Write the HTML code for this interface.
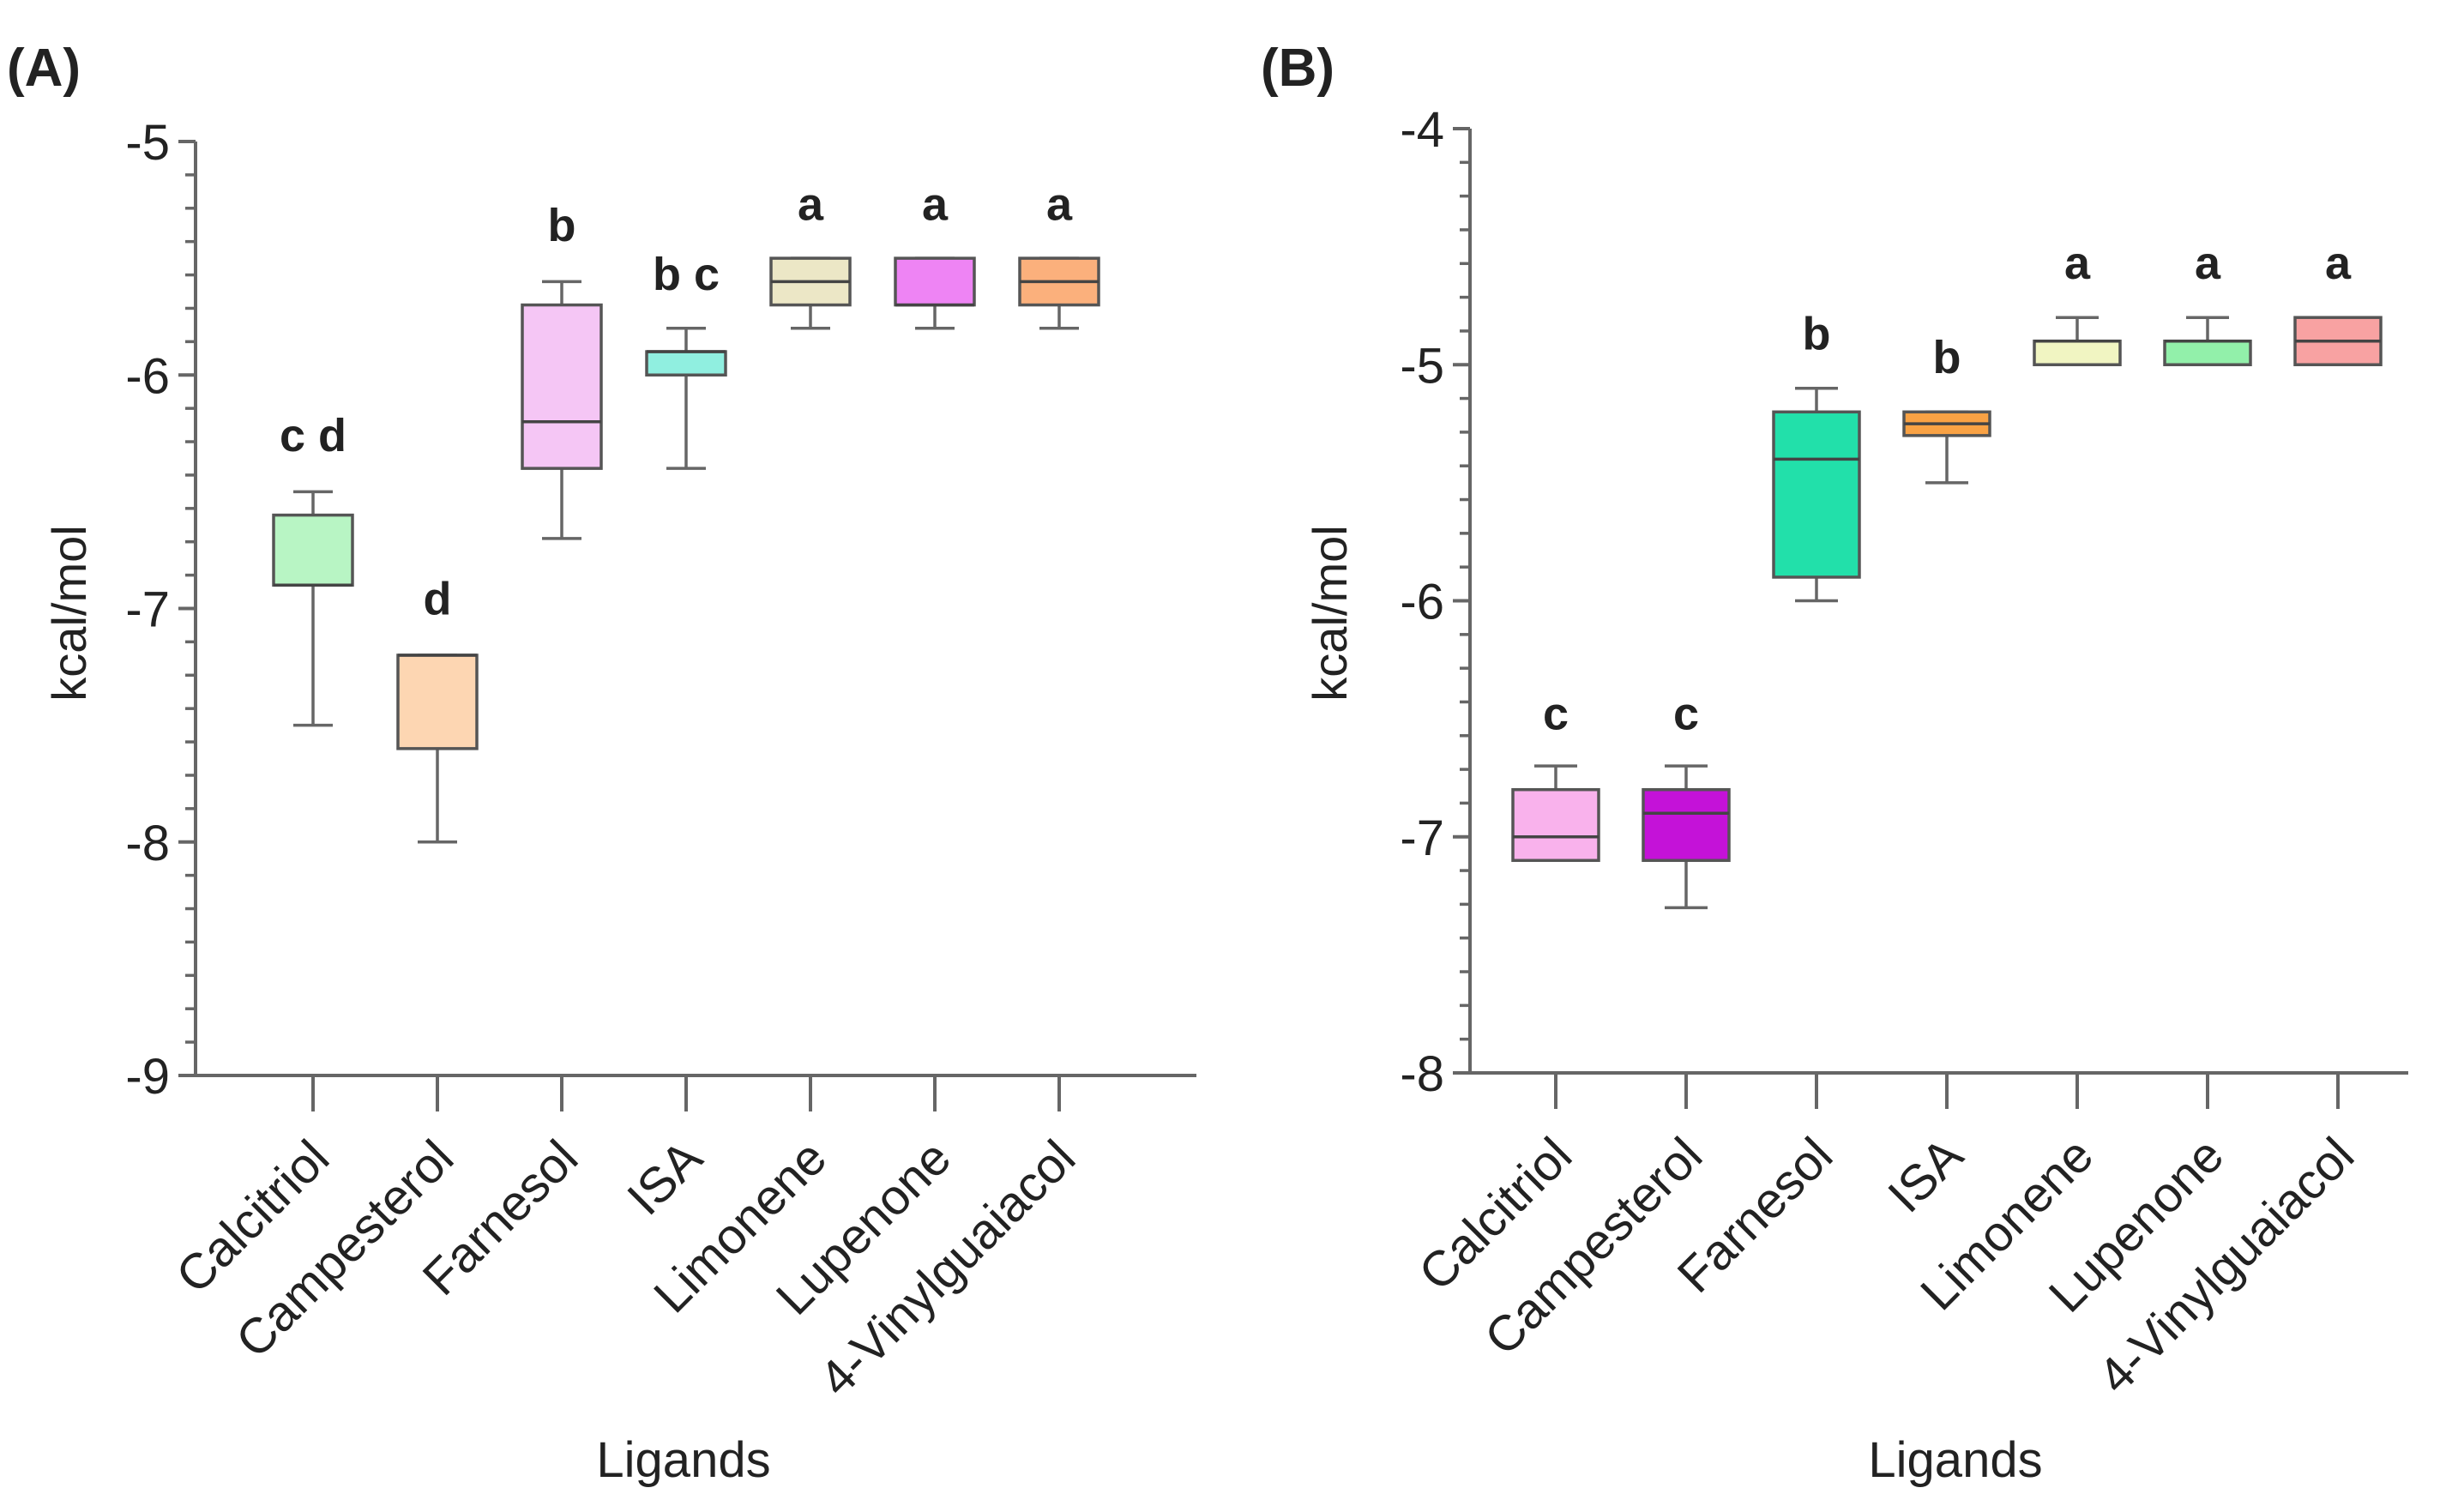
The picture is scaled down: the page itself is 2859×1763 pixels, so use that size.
<!DOCTYPE html>
<html><head><meta charset="utf-8"><style>
body{margin:0;background:#fff}
svg{display:block}
text{font-family:"Liberation Sans",sans-serif;fill:#222}
</style></head><body>
<svg id="chart" width="2859" height="1763" viewBox="0 0 2859 1763" xmlns="http://www.w3.org/2000/svg"></svg>
<script>
const categories = ["Calcitriol","Campesterol","Farnesol","ISA","Limonene","Lupenone","4-Vinylguaiacol"];
// Panel A values
const aWhiskHigh = [-6.5,-7.2,-5.6,-5.8,-5.5,-5.5,-5.5];
const aBoxTop    = [-6.6,-7.2,-5.7,-5.9,-5.5,-5.5,-5.5];
const aMedian    = [-6.9,-7.2,-6.2,-5.9,-5.6,-5.7,-5.6];
const aBoxBottom = [-6.9,-7.6,-6.4,-6.0,-5.7,-5.7,-5.7];
const aWhiskLow  = [-7.5,-8.0,-6.7,-6.4,-5.8,-5.8,-5.8];
const aLetters   = ["c d","d","b","b c","a","a","a"];
const aLetterY   = [-6.26,-6.96,-5.36,-5.57,-5.27,-5.27,-5.27];
const aColors    = ["#b8f5c4","#fdd6b2","#f5c6f5","#90efe0","#ece7c6","#ee84f4","#fbb07c"];
const aTicks     = [-5,-6,-7,-8,-9];
// Panel B values
const bWhiskHigh = [-6.7,-6.7,-5.1,-5.2,-4.8,-4.8,-4.8];
const bBoxTop    = [-6.8,-6.8,-5.2,-5.2,-4.9,-4.9,-4.8];
const bMedian    = [-7.0,-6.9,-5.4,-5.25,-4.9,-4.9,-4.9];
const bBoxBottom = [-7.1,-7.1,-5.9,-5.3,-5.0,-5.0,-5.0];
const bWhiskLow  = [-7.1,-7.3,-6.0,-5.5,-5.0,-5.0,-5.0];
const bLetters   = ["c","c","b","b","a","a","a"];
const bLetterY   = [-6.48,-6.48,-4.87,-4.97,-4.57,-4.57,-4.57];
const bColors    = ["#f9b2ec","#c412d8","#22e0aa","#f9a244","#f1f5c2","#92f0aa","#f8a2a2"];
const bTicks     = [-4,-5,-6,-7,-8];

const NS="http://www.w3.org/2000/svg";
const svg=document.getElementById('chart');
function el(tag,attrs,parent){const e=document.createElementNS(NS,tag);for(const k in attrs)e.setAttribute(k,attrs[k]);(parent||svg).appendChild(e);return e;}

function panel(cfg){
  const g=el('g',{});
  
  
  const yMax=cfg.ticks[0], yMin=cfg.ticks[cfg.ticks.length-1];
  const y=v=>cfg.yTop+(yMax-v)/(yMax-yMin)*(cfg.yBot-cfg.yTop);
  const x=i=>cfg.x0+i*cfg.step;
  const stroke="#666";
  const ya=el('line',{x1:cfg.ax,y1:y(yMax),x2:cfg.ax,y2:cfg.yBot,stroke:stroke,'stroke-width':4},g);
  
  
  const xa=el('line',{x1:cfg.ax-20,y1:cfg.yBot,x2:cfg.axEnd,y2:cfg.yBot,stroke:stroke,'stroke-width':4},g);
  
  
  for(let k=0;k<cfg.ticks.length;k++){
    const v=cfg.ticks[k];
    el('line',{x1:cfg.ax-20,y1:y(v),x2:cfg.ax,y2:y(v),stroke:stroke,'stroke-width':4},g);
    const t=el('text',{x:cfg.ax-30,y:y(v)+21,'text-anchor':'end','font-size':58},g);
    t.textContent=String(v);
    
    
    if(k<cfg.ticks.length-1){
      for(let m=1;m<7;m++){const mv=v-m/7;
        el('line',{x1:cfg.ax-12,y1:y(mv),x2:cfg.ax,y2:y(mv),stroke:stroke,'stroke-width':3.5},g);}
    }
  }
  for(let i=0;i<categories.length;i++){
    const cx=x(i);
    el('line',{x1:cx,y1:cfg.yBot,x2:cx,y2:cfg.yBot+42,stroke:stroke,'stroke-width':4},g);
    const tx=cx+22, ty=cfg.yBot+100;
    const t=el('text',{x:tx,y:ty,'text-anchor':'end','font-size':58,transform:`rotate(-45 ${tx} ${ty})`,fill:'#333'},g);
    t.textContent=categories[i];
    
    
    const bw=cfg.bw/2;
    el('line',{x1:cx,y1:y(cfg.wh[i]),x2:cx,y2:y(cfg.bt[i]),stroke:stroke,'stroke-width':3.5},g);
    el('line',{x1:cx,y1:y(cfg.wl[i]),x2:cx,y2:y(cfg.bb[i]),stroke:stroke,'stroke-width':3.5},g);
    el('line',{x1:cx-bw/2,y1:y(cfg.wh[i]),x2:cx+bw/2,y2:y(cfg.wh[i]),stroke:stroke,'stroke-width':3.5},g);
    el('line',{x1:cx-bw/2,y1:y(cfg.wl[i]),x2:cx+bw/2,y2:y(cfg.wl[i]),stroke:stroke,'stroke-width':3.5},g);
    const b=el('rect',{x:cx-bw,y:y(cfg.bt[i]),width:cfg.bw,height:Math.max(2,y(cfg.bb[i])-y(cfg.bt[i])),fill:cfg.colors[i],stroke:'#555','stroke-width':3.5},g);
    
    
    el('line',{x1:cx-bw,y1:y(cfg.med[i]),x2:cx+bw,y2:y(cfg.med[i]),stroke:'#444','stroke-width':3.5},g);
    const l=el('text',{x:cx,y:y(cfg.ly[i])+18,'text-anchor':'middle','font-size':54,'font-weight':'bold',fill:'#333'},g);
    l.textContent=cfg.letters[i];
    
    
  }
  const yt=el('text',{x:cfg.ylx,y:715,'text-anchor':'middle','font-size':56,transform:`rotate(-90 ${cfg.ylx} 715)`,fill:'#333'},g);
  yt.textContent='kcal/mol';
  
  
  const xt=el('text',{x:cfg.xlx,y:1722,'text-anchor':'middle','font-size':58,fill:'#333'},g);
  xt.textContent='Ligands';
  
  
  const pt=el('text',{x:cfg.px,y:100,'font-size':62,'font-weight':'bold',fill:'#111'},g);
  pt.textContent=cfg.label;
  
  
}
panel({name:'panel-a',label:'(A)',px:8,ticks:aTicks,yTop:165,yBot:1254,ax:228,axEnd:1395,x0:365,step:145,bw:92,
  wh:aWhiskHigh,bt:aBoxTop,med:aMedian,bb:aBoxBottom,wl:aWhiskLow,letters:aLetters,ly:aLetterY,colors:aColors,ylx:100,xlx:797});
panel({name:'panel-b',label:'(B)',px:1470,ticks:bTicks,yTop:150,yBot:1251,ax:1714,axEnd:2808,x0:1814,step:152,bw:100,
  wh:bWhiskHigh,bt:bBoxTop,med:bMedian,bb:bBoxBottom,wl:bWhiskLow,letters:bLetters,ly:bLetterY,colors:bColors,ylx:1570,xlx:2280});
</script>
</body></html>
